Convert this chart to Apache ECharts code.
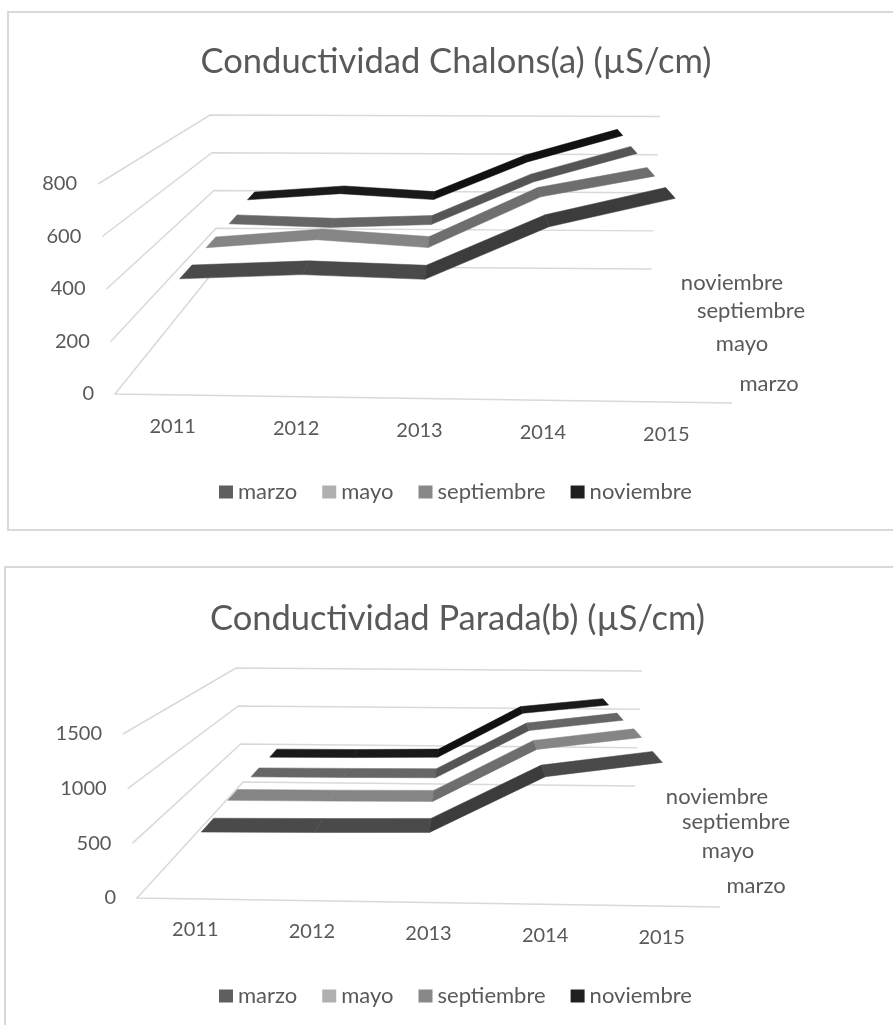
<!DOCTYPE html>
<html><head><meta charset="utf-8">
<script src="https://cdn.jsdelivr.net/npm/echarts@6/dist/echarts.min.js"></script>
<style>html,body{margin:0;background:#fff}#c{width:893px;height:1025px}</style></head>
<body><div id="c"></div>
<script>
const years = ['2011','2012','2013','2014','2015'];
const months = ['marzo','mayo','septiembre','noviembre'];
const chalonsTitle = 'Conductividad Chalons(a) (µS/cm)';
const paradaTitle = 'Conductividad Parada(b) (µS/cm)';
const chalonsTicks = [0,200,400,600,800];
const paradaTicks = [0,500,1000,1500];
const chalonsMarzo = [400,422,409,619,734];
const chalonsMayo = [406,445,416,637,729];
const chalonsSept = [398,385,402,604,740];
const chalonsNov = [414,448,421,613,748];
const paradaMarzo = [510,520,535,1070,1215];
const paradaMayo = [530,535,545,1095,1230];
const paradaSept = [505,510,518,1067,1195];
const paradaNov = [490,495,510,1066,1177];

const FONT = 'Lato';
const TXT = '#595959';
const legendColors = ['#5f5f5f','#b0b0b0','#888888','#202020'];
const flatColors = ['#4a4a4a','#858585','#666666','#1a1a1a'];
const riseColors = ['#3c3c3c','#6e6e6e','#555555','#111111'];
const depths = [[.11,.25],[.41,.52],[.67,.76],[.88,.96]];

const chartLayouts = [
 {title:chalonsTitle, ticks:chalonsTicks, vmax:800, values:[chalonsMarzo,chalonsMayo,chalonsSept,chalonsNov],
  FBL:[115,394],FBR:[732,403],FTL:[98,184],FTR:[749,190],BBL:[218,266],BBR:[651.5,269],BTL:[210,115],BTR:[660,116.5],
  titleX:451,titleY:39,legendY:476,legendX:214,catDx:-4,catDy:32,
  depthLabels:[[769,384],[742,344],[751,311],[732,283]]},
 {title:paradaTitle, ticks:paradaTicks, vmax:1500, values:[paradaMarzo,paradaMayo,paradaSept,paradaNov],
  FBL:[137,898],FBR:[720,907],FTL:[123,734],FTR:[733,740],BBL:[243,782],BBR:[635,786],BTL:[236,668],BTR:[642,671],
  titleX:452.5,titleY:596,legendY:980,legendX:214,catDx:0,catDy:31,
  depthLabels:[[756,886],[728,851],[736,822],[717,797]]}
];
const frames = [[8,12,900,518],[5,567,900,500]];

function lerp(a,b,t){return a+(b-a)*t;}
function project(L,u,v,d){
  const q=(a,b)=>[lerp(a[0],b[0],u),lerp(a[1],b[1],u)];
  const fb=q(L.FBL,L.FBR),ft=q(L.FTL,L.FTR),bb=q(L.BBL,L.BBR),bt=q(L.BTL,L.BTR);
  const f=[lerp(fb[0],ft[0],v),lerp(fb[1],ft[1],v)],b=[lerp(bb[0],bt[0],v),lerp(bb[1],bt[1],v)];
  return [lerp(f[0],b[0],d),lerp(f[1],b[1],d)];
}
function norm(params,api,cat,val){
  const p=api.coord([cat,val]),c=params.coordSys;
  return [(p[0]-c.x)/c.width,(c.y+c.height-p[1])/c.height];
}

const grids=[],xAxes=[],yAxes=[],series=[],titles=[],legends=[],graphics=[];
frames.forEach(f=>graphics.push({type:'rect',shape:{x:f[0],y:f[1],width:f[2],height:f[3]},style:{fill:'#fff',stroke:'#d9d9d9',lineWidth:2},z:-1}));

chartLayouts.forEach((L,ci)=>{
  grids.push({left:L.FBL[0],width:L.FBR[0]-L.FBL[0],top:L.FTL[1],height:L.FBL[1]-L.FTL[1]});
  xAxes.push({type:'category',gridIndex:ci,data:years,show:false,boundaryGap:true});
  yAxes.push({type:'value',gridIndex:ci,min:0,max:L.vmax,show:false});
  titles.push({text:L.title,left:L.titleX,top:L.titleY,textAlign:'center',
    textStyle:{fontFamily:FONT,fontSize:34.5,fontWeight:'normal',color:TXT}});
  legends.push({left:L.legendX,top:L.legendY,icon:'rect',itemWidth:14,itemHeight:13,itemGap:25,selectedMode:false,
    textStyle:{fontFamily:FONT,fontSize:22,color:TXT},
    data:months.map((m,i)=>({name:m,itemStyle:{color:legendColors[i]}}))});
  series.push({type:'custom',name:'grid'+ci,coordinateSystem:'cartesian2d',xAxisIndex:ci,yAxisIndex:ci,silent:true,z:1,clip:false,
    data:L.ticks.map(t=>[0,t]),encode:{x:0,y:1},
    renderItem(params,api){
      const val=api.value(1),n=norm(params,api,0,val),v=n[1];
      const a=project(L,0,v,0),b=project(L,0,v,1),c=project(L,1,v,1);
      const pts=val===0?[project(L,1,0,0),a,b,c]:[a,b,c];
      return {type:'group',children:[
        {type:'polyline',shape:{points:pts},style:{fill:'none',stroke:'#d9d9d9',lineWidth:1.5}},
        {type:'text',style:{text:String(val),x:a[0]-21,y:a[1],align:'right',verticalAlign:'middle',fontFamily:FONT,fontSize:20,fill:TXT}}
      ]};
    }});
  series.push({type:'custom',name:'cat'+ci,coordinateSystem:'cartesian2d',xAxisIndex:ci,yAxisIndex:ci,silent:true,z:1,clip:false,
    data:years.map((y,i)=>[i,0]),encode:{x:0,y:1},
    renderItem(params,api){
      const i=api.value(0),n=norm(params,api,i,0),p=project(L,n[0],0,0);
      return {type:'text',style:{text:years[i],x:p[0]+L.catDx,y:p[1]+L.catDy,align:'center',verticalAlign:'middle',fontFamily:FONT,fontSize:20,fill:TXT}};
    }});
  months.forEach((m,si)=>{
    const vals=L.values[si];
    series.push({type:'custom',name:m,coordinateSystem:'cartesian2d',xAxisIndex:ci,yAxisIndex:ci,silent:true,clip:false,
      z:10-si,itemStyle:{color:legendColors[si]},
      data:vals.map((v,i)=>[i,v]),encode:{x:0,y:1},
      renderItem(params,api){
        const i=api.value(0);
        if(i>=vals.length-1) return null;
        const a=norm(params,api,i,api.value(1)),b=norm(params,api,i+1,vals[i+1]);
        const [d0,d1]=depths[si];
        const rising=(vals[i+1]-vals[i])/L.vmax>0.1;
        const col=rising?riseColors[si]:flatColors[si];
        return {type:'polygon',shape:{points:[project(L,a[0],a[1],d0),project(L,b[0],b[1],d0),project(L,b[0],b[1],d1),project(L,a[0],a[1],d1)]},
          style:{fill:col,stroke:col,lineWidth:.5}};
      }});
  });
  months.forEach((m,si)=>graphics.push({type:'text',x:L.depthLabels[si][0],y:L.depthLabels[si][1],
    style:{text:m,align:'center',verticalAlign:'middle',fontFamily:FONT,fontSize:22,fill:TXT}}));
});

const chart=echarts.init(document.getElementById('c'),null,{renderer:'canvas'});
chart.setOption({animation:false,backgroundColor:'#fff',title:titles,legend:legends,grid:grids,xAxis:xAxes,yAxis:yAxes,series,graphic:graphics});
</script></body></html>
